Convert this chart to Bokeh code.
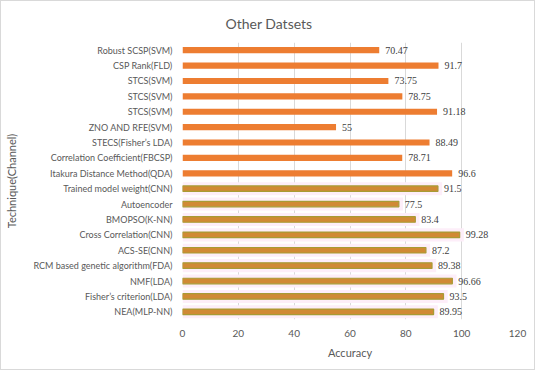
from bokeh.plotting import figure
from bokeh.models import Range1d, FixedTicker, ColumnDataSource, LabelSet
from bokeh.embed import file_html
from bokeh.resources import INLINE

# Top-to-bottom order as shown
techniques = [
    "Robust SCSP(SVM)", "CSP Rank(FLD)", "STCS(SVM)", "STCS(SVM)", "STCS(SVM)",
    "ZNO AND RFE(SVM)", "STECS(Fisher\u2019s LDA)", "Correlation Coefficient(FBCSP)",
    "Itakura Distance Method(QDA)", "Trained model weight(CNN)", "Autoencoder",
    "BMOPSO(K-NN)", "Cross Correlation(CNN)", "ACS-SE(CNN)",
    "RCM based genetic algorithm(FDA)", "NMF(LDA)", "Fisher\u2019s criterion(LDA)", "NEA(MLP-NN)",
]
accuracy = [70.47, 91.7, 73.75, 78.75, 91.18, 55, 88.49, 78.71, 96.6,
            91.5, 77.5, 83.4, 99.28, 87.2, 89.38, 96.66, 93.5, 89.95]
labels = ["70.47", "91.7", "73.75", "78.75", "91.18", "55", "88.49", "78.71", "96.6",
          "91.5", "77.5", "83.4", "99.28", "87.2", "89.38", "96.66", "93.5", "89.95"]
x_ticks = [0, 20, 40, 60, 80, 100, 120]

n = len(techniques)
ypos = [n - 1 - i for i in range(n)]
n_top = 9

FONT = "Lato"
TXT = "#595959"

p = figure(width=535, height=370, output_backend="svg", toolbar_location=None,
           x_range=Range1d(0, 120), y_range=Range1d(-0.5, n - 0.5),
           min_border_left=181, min_border_right=19, min_border_top=41, min_border_bottom=52,
           title="Other Datsets")
p.styles = {"border": "1px solid #d9d9d9"}
p.outline_line_color = None
p.background_fill_color = "white"
p.border_fill_color = "white"

p.title.align = "left"
p.title.offset = 43
p.title.text_font = FONT
p.title.text_font_size = "14px"
p.title.text_font_style = "normal"
p.title.text_color = TXT
p.title.standoff = 22

top_src = ColumnDataSource(dict(y=ypos[:n_top], x=accuracy[:n_top], lab=labels[:n_top]))
bot_src = ColumnDataSource(dict(y=ypos[n_top:], x=accuracy[n_top:], lab=labels[n_top:],
                                xb=[v + 1.5 for v in accuracy[n_top:]]))

# pink bands behind lower bars
p.hbar(y="y", right="xb", left=0, height=0.85, source=bot_src,
       fill_color="#FDEEF9", line_color=None)

p.hbar(y="y", right="x", left=0, height=0.4, source=top_src,
       fill_color="#ED7D31", line_color=None)
p.hbar(y="y", right="x", left=0, height=0.36, source=bot_src,
       fill_color="#D08A35", line_color="#A89B35", line_width=1.2)

for src in (top_src, bot_src):
    p.add_layout(LabelSet(x="x", y="y", text="lab", source=src, x_offset=6,
                          text_baseline="middle", text_font=FONT,
                          text_font_size="10px", text_color="#404040"))

p.xaxis.ticker = FixedTicker(ticks=x_ticks)
p.xaxis.axis_line_color = None
p.xaxis.major_tick_line_color = None
p.xaxis.minor_tick_line_color = None
p.xaxis.major_label_text_font = FONT
p.xaxis.major_label_text_font_size = "10px"
p.xaxis.major_label_text_color = TXT
p.xaxis.major_label_standoff = 4
p.xaxis.axis_label = "Accuracy"
p.xaxis.axis_label_text_font = FONT
p.xaxis.axis_label_text_font_size = "11px"
p.xaxis.axis_label_text_font_style = "normal"
p.xaxis.axis_label_text_color = TXT
p.xaxis.axis_label_standoff = 6

p.yaxis.ticker = FixedTicker(ticks=ypos)
p.yaxis.major_label_overrides = {ypos[i]: techniques[i] for i in range(n)}
p.yaxis.axis_line_color = None
p.yaxis.major_tick_line_color = None
p.yaxis.minor_tick_line_color = None
p.yaxis.major_label_text_font = FONT
p.yaxis.major_label_text_font_size = "9px"
p.yaxis.major_label_text_color = TXT
p.yaxis.major_label_standoff = 4
p.yaxis.axis_label = "Technique(Channel)"
p.yaxis.axis_label_text_font = FONT
p.yaxis.axis_label_text_font_size = "11px"
p.yaxis.axis_label_text_font_style = "normal"
p.yaxis.axis_label_text_color = TXT
p.yaxis.axis_label_standoff = 12

p.xgrid.grid_line_color = "#D9D9D9"
p.ygrid.grid_line_color = None

open("out.html", "w").write(file_html(p, INLINE))
